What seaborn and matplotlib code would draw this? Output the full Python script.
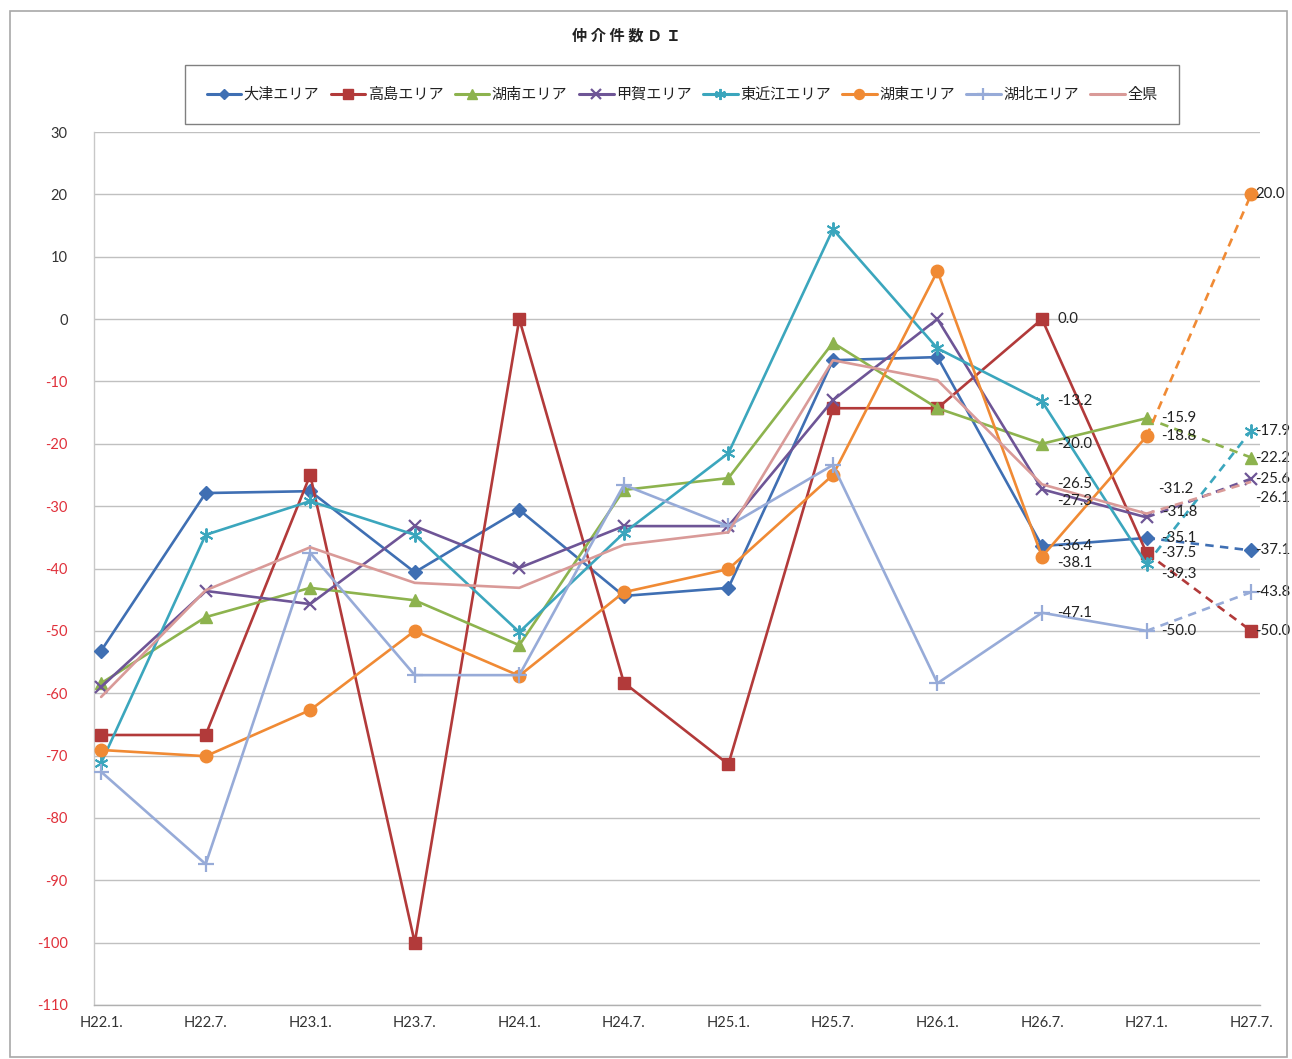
import numpy as np
import pandas as pd
import matplotlib
matplotlib.use("Agg")
import matplotlib.pyplot as plt
import seaborn as sns
from matplotlib.lines import Line2D
from matplotlib.patches import Rectangle

# ---------------- data ----------------
periods = ["H22.1.", "H22.7.", "H23.1.", "H23.7.", "H24.1.", "H24.7.",
           "H25.1.", "H25.7.", "H26.1.", "H26.7.", "H27.1.", "H27.7."]

otsu       = [-53.2, -27.9, -27.6, -40.6, -30.6, -44.4, -43.1, -6.6, -6.1, -36.4, -35.1, -37.1]
takashima  = [-66.7, -66.7, -25.0, -100.0, 0.0, -58.3, -71.4, -14.3, -14.3, 0.0, -37.5, -50.0]
konan      = [-58.4, -47.8, -43.1, -45.1, -52.3, -27.4, -25.5, -3.8, -14.3, -20.0, -15.9, -22.2]
koka       = [-59.0, -43.6, -45.7, -33.2, -39.9, -33.2, -33.2, -13.0, 0.0, -27.3, -31.8, -25.6]
higashiomi = [-71.2, -34.6, -29.2, -34.6, -50.2, -34.3, -21.5, 14.4, -4.7, -13.2, -39.3, -17.9]
koto       = [-69.1, -70.1, -62.7, -50.0, -57.2, -43.8, -40.1, -25.0, 7.7, -38.1, -18.8, 20.0]
kohoku     = [-72.6, -87.4, -37.5, -57.1, -57.1, -26.6, -33.2, -23.4, -58.4, -47.1, -50.0, -43.8]
zenken     = [-60.6, -43.5, -36.6, -42.3, -43.1, -36.2, -34.2, -6.6, -9.8, -26.5, -31.2, -26.1]

series_names = ["大津エリア", "高島エリア", "湖南エリア", "甲賀エリア",
                "東近江エリア", "湖東エリア", "湖北エリア", "全県"]
series_values = [otsu, takashima, konan, koka, higashiomi, koto, kohoku, zenken]

title_text = "仲 介 件 数 Ｄ Ｉ"
y_ticks = list(range(-110, 31, 10))

# ---------------- styles ----------------
colors = ["#3F6FB3", "#B23A3A", "#8DB34E", "#6E5596", "#3BA6BD", "#F08A34", "#97ABD8", "#D99A98"]
markers = ["D", "s", "^", "x", (6, 2, 0), "o", "+", None]
msizes = [7, 8.5, 9, 9, 10, 9, 11, 0]
mews = [1, 1, 1, 1.6, 1.4, 1, 1.6, 1]

# label offsets in pixels (dx, dy), by (series index, point index)
label_offsets = {
    (3, 9): (15, -12), (5, 9): (15, -6),
    (7, 10): (12, 25), (3, 10): (16, 5), (4, 10): (15, -10),
    (7, 11): (4, -16),
}

sns.set_theme(style="white")
plt.rcParams["font.family"] = ["Lato", "Noto Sans CJK JP", "DejaVu Sans"]

W, H = 1292, 1059
fig = plt.figure(figsize=(W / 100, H / 100), dpi=100)
ax = fig.add_axes([94 / W, 1 - 1005 / H, (1260 - 94) / W, (1005 - 132) / H])

x = np.arange(len(periods))
dash = (0, (3.2, 2.4))

for i, (name, vals) in enumerate(zip(series_names, series_values)):
    c = colors[i]
    m = markers[i]
    kw = dict(color=c, linewidth=1.9, markersize=msizes[i], markeredgewidth=mews[i],
              markeredgecolor=c, markerfacecolor=c)
    if m is not None:
        kw["marker"] = m
    df_solid = pd.DataFrame({"x": x[:11], "y": vals[:11]})
    sns.lineplot(data=df_solid, x="x", y="y", ax=ax, legend=False, zorder=3 + i * 0.1, **kw)
    df_dash = pd.DataFrame({"x": x[10:], "y": vals[10:]})
    kw2 = dict(kw)
    if m is not None:
        kw2["markevery"] = [1]
    sns.lineplot(data=df_dash, x="x", y="y", ax=ax, legend=False, linestyle=dash,
                 zorder=3 + i * 0.1, **kw2)
    for j in (9, 10, 11):
        dx, dy = label_offsets.get((i, j), (15 if j < 11 else 4, 0))
        ax.annotate(f"{vals[j]:.1f}", (x[j], vals[j]), xytext=(dx, dy),
                    textcoords="offset pixels", ha="left", va="center",
                    fontsize=10.8, color="#222222", annotation_clip=False, zorder=10)

ax.set_xlim(-0.068, 11.085)
ax.set_ylim(-110, 30)
ax.set_yticks(y_ticks)
ax.set_yticklabels([str(v) for v in y_ticks])
for lbl, v in zip(ax.get_yticklabels(), y_ticks):
    lbl.set_color("#E0303A" if v < 0 else "#333333")
ax.set_xticks(x)
ax.set_xticklabels(periods, color="#333333")
ax.tick_params(axis="y", length=0, pad=19, labelsize=10.5)
ax.tick_params(axis="x", length=0, pad=8, labelsize=10.5)
ax.set_xlabel("")
ax.set_ylabel("")
ax.grid(axis="y", color="#C0C0C0", linewidth=1.0)
ax.grid(axis="x", visible=False)
for s in ["top", "right"]:
    ax.spines[s].set_visible(False)
ax.spines["left"].set_color("#C8C8C8")
ax.spines["bottom"].set_color("#B0B0B0")
ax.spines["left"].set_linewidth(1.0)
ax.spines["bottom"].set_linewidth(1.0)

# outer frame
fig.patches.append(Rectangle((10 / W, 1 - 1057 / H), (1287 - 10) / W, (1057 - 11) / H,
                             transform=fig.transFigure, fill=False, edgecolor="#A8A8A8",
                             linewidth=1.2))

fig.text(626 / W, 1 - 36 / H, title_text, ha="center", va="center", fontsize=11,
         fontweight="bold", color="#222222", family=["Noto Sans CJK JP", "DejaVu Sans"])

handles = []
for i, name in enumerate(series_names):
    h = Line2D([0], [0], color=colors[i], linewidth=2.2,
               marker=markers[i] if markers[i] is not None else None,
               markersize=msizes[i] * 0.8, markeredgewidth=mews[i],
               markeredgecolor=colors[i], markerfacecolor=colors[i])
    handles.append(h)
leg = fig.legend(handles, series_names, loc="center", bbox_to_anchor=(682 / W, 1 - 94.5 / H),
                 ncol=8, frameon=True, fancybox=False, handlelength=2.3,
                 handletextpad=0.15, columnspacing=0.75, borderpad=1.4,
                 prop={"family": ["Noto Sans CJK JP", "DejaVu Sans"], "size": 10.9})
leg.get_frame().set_edgecolor("#606060")
leg.get_frame().set_linewidth(1.0)
for t in leg.get_texts():
    t.set_color("#222222")

fig.savefig("out.png", dpi=100)
